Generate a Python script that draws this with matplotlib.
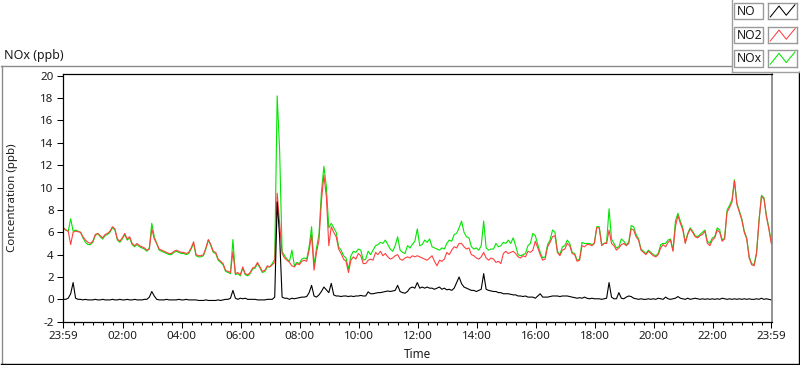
import numpy as np
import matplotlib
matplotlib.use("Agg")
import matplotlib.pyplot as plt
from matplotlib.lines import Line2D
from matplotlib.patches import Rectangle
from matplotlib.ticker import FixedLocator, FixedFormatter

plt.rcParams['font.family'] = ['Noto Sans', 'DejaVu Sans']

# ---------------- data (5-minute samples starting at 23:59) ----------------
step_minutes = 5

no2 = [
    6.4, 6.2, 6.1, 4.9, 6.0, 6.1, 6.05, 6.0, 5.6, 5.3, 5.1, 5.0,
    5.2, 5.8, 5.9, 5.7, 5.5, 5.8, 5.9, 6.1, 6.5, 6.3, 5.4, 5.2,
    5.5, 5.9, 5.4, 5.6, 5.0, 4.8, 5.0, 4.8, 4.7, 4.6, 4.4, 4.5,
    6.3, 5.4, 5.0, 4.5, 4.4, 4.3, 4.2, 4.1, 4.1, 4.3, 4.4, 4.3,
    4.2, 4.2, 4.1, 4.2, 4.6, 5.15, 4.0, 3.9, 3.9, 4.0, 4.6, 5.35,
    4.9, 4.3, 4.2, 3.6, 3.4, 3.2, 2.6, 2.5, 2.4, 4.25, 2.3, 2.4,
    2.2, 2.9, 2.3, 2.2, 2.4, 2.8, 2.9, 3.3, 2.9, 2.5, 2.6, 3.0,
    2.9, 3.1, 3.3, 9.5, 6.8, 4.1, 3.7, 3.5, 3.3, 3.0, 2.9, 3.2,
    3.1, 3.4, 3.5, 3.4, 4.4, 5.75, 2.6, 4.2, 5.3, 8.8, 11.1, 9.2,
    4.8, 6.5, 6.0, 5.6, 4.5, 4.1, 3.6, 3.4, 2.4, 3.5, 3.8, 3.6,
    4.1, 3.9, 3.2, 3.2, 3.5, 3.6, 3.5, 4.2, 4.0, 4.3, 3.9, 4.1,
    3.8, 3.6, 3.7, 3.9, 4.0, 3.6, 3.5, 3.7, 3.8, 3.7, 3.9, 3.8,
    3.9, 3.8, 3.7, 3.6, 3.5, 3.7, 3.9, 3.4, 3.0, 3.5, 3.4, 3.6,
    4.2, 4.0, 4.4, 4.7, 4.6, 5.0, 5.0, 4.7, 4.5, 4.6, 4.0, 3.9,
    3.7, 3.6, 3.8, 4.2, 3.7, 3.5, 3.7, 3.6, 3.3, 3.4, 3.2, 4.1,
    4.3, 4.1, 4.2, 4.3, 4.1, 3.8, 3.7, 3.9, 3.8, 4.3, 4.2, 4.4,
    5.2, 4.6, 4.0, 3.5, 3.6, 4.7, 5.1, 5.6, 5.7, 4.2, 3.9, 4.4,
    4.5, 5.0, 4.8, 4.1, 4.0, 3.4, 3.5, 4.8, 4.7, 4.9, 4.9, 4.8,
    5.0, 6.4, 6.4, 4.8, 5.0, 5.0, 6.2, 5.0, 4.8, 4.4, 4.6, 4.9,
    5.0, 4.8, 5.0, 6.3, 6.2, 5.6, 5.3, 4.4, 4.2, 4.0, 4.3, 4.1,
    3.9, 3.8, 4.0, 4.6, 4.9, 4.7, 5.1, 5.3, 4.3, 6.5, 7.5, 6.8,
    6.2, 5.0, 5.8, 6.3, 6.0, 5.6, 5.5, 5.7, 5.8, 6.1, 5.0, 4.8,
    5.3, 5.5, 6.2, 6.0, 5.2, 5.4, 7.8, 8.2, 8.7, 10.6, 8.5, 7.8,
    7.1, 6.0, 5.4, 3.7, 3.1, 3.0, 4.1, 7.0, 9.2, 9.0, 7.4, 6.3,
    5.0,
]

nox = [
    6.4, 6.2, 6.1, 7.2, 6.1, 6.2, 6.1, 6.0, 5.5, 5.1, 4.9, 4.9,
    5.1, 5.7, 5.9, 5.6, 5.4, 5.7, 5.8, 6.0, 6.4, 6.2, 5.3, 5.1,
    5.4, 5.8, 5.3, 5.5, 4.9, 4.7, 4.9, 4.7, 4.6, 4.5, 4.3, 4.6,
    6.8, 5.6, 5.0, 4.4, 4.3, 4.2, 4.1, 4.0, 4.0, 4.2, 4.3, 4.2,
    4.1, 4.1, 4.0, 4.1, 4.5, 5.0, 3.9, 3.8, 3.8, 3.9, 4.5, 5.3,
    4.8, 4.2, 4.1, 3.5, 3.3, 3.1, 2.5, 2.4, 2.3, 5.35, 2.2, 2.3,
    2.1, 2.8, 2.2, 2.1, 2.3, 2.7, 2.8, 3.2, 2.8, 2.4, 2.5, 2.9,
    2.9, 3.2, 3.6, 18.2, 13.3, 4.3, 3.9, 3.6, 3.4, 4.4, 3.0, 3.3,
    3.2, 3.6, 3.7, 3.6, 4.7, 6.5, 3.0, 4.6, 5.8, 9.6, 11.9, 10.1,
    6.4, 6.8, 6.4, 6.0, 4.7, 4.4, 3.9, 3.7, 2.7, 3.9, 4.3, 4.2,
    4.5, 4.4, 3.5, 3.6, 4.3, 4.0, 4.4, 4.8, 4.9, 5.1, 5.0, 5.3,
    4.9, 4.5, 4.3, 4.8, 5.6, 4.4, 4.2, 4.1, 4.8, 4.6, 4.9, 5.2,
    6.3, 4.8, 4.9, 5.3, 5.1, 5.4, 4.7, 4.6, 4.5, 4.4, 4.6, 4.5,
    5.0, 5.3, 5.2, 5.8, 5.9, 6.4, 7.0, 6.0, 5.6, 5.5, 4.7, 4.5,
    4.6, 4.4, 4.8, 7.0, 4.6, 4.4, 4.5, 4.5, 5.0, 4.7, 4.8, 5.1,
    5.0, 5.3, 5.0, 5.5, 4.8, 4.0, 3.9, 4.0, 4.1, 4.8, 5.0, 5.9,
    5.7, 4.9, 4.2, 3.7, 3.8, 4.9, 5.3, 6.2, 6.0, 4.3, 4.0, 4.7,
    4.8, 5.3, 5.0, 4.2, 4.1, 3.5, 3.6, 5.1, 5.0, 5.0, 5.0, 4.9,
    5.0, 6.5, 6.5, 4.9, 5.0, 5.1, 8.1, 5.4, 5.0, 4.6, 4.7, 5.4,
    5.2, 4.9, 5.1, 6.6, 6.5, 5.8, 5.4, 4.5, 4.3, 4.1, 4.4, 4.2,
    4.0, 3.9, 4.1, 4.9, 5.0, 5.0, 5.3, 5.4, 4.4, 7.0, 7.7, 7.0,
    6.4, 5.1, 5.9, 6.4, 6.1, 5.7, 5.6, 5.8, 6.0, 6.2, 5.2, 5.0,
    5.5, 5.6, 6.4, 6.2, 5.3, 5.5, 8.0, 8.4, 8.9, 10.7, 8.6, 7.9,
    7.2, 6.1, 5.5, 3.8, 3.2, 3.1, 4.2, 7.1, 9.3, 9.1, 7.5, 6.4,
    5.1,
]

no = [
    0.0, 0.0, 0.1, 0.5, 1.5, 0.1, 0.0, 0.0, -0.05, 0.0, -0.05, -0.05,
    -0.05, 0.0, -0.05, -0.05, 0.0, -0.05, -0.05, -0.05, 0.0, -0.05, -0.05, 0.0,
    -0.05, -0.05, 0.0, -0.05, -0.05, 0.0, -0.05, -0.05, -0.05, 0.0, 0.0, 0.2,
    0.7, 0.3, 0.0, -0.05, -0.05, -0.05, 0.0, -0.05, -0.05, -0.05, -0.05, 0.0,
    -0.05, -0.05, 0.0, -0.05, -0.05, -0.05, -0.05, -0.1, -0.1, -0.1, -0.05, -0.1,
    -0.1, -0.1, -0.1, -0.05, -0.1, -0.05, 0.0, 0.0, 0.1, 0.8, 0.1, 0.0,
    0.1, 0.05, 0.1, 0.0, 0.0, 0.0, 0.0, -0.05, -0.05, -0.05, -0.05, 0.0,
    0.0, 0.0, 0.2, 8.7, 5.6, 0.2, 0.1, 0.1, 0.0, 0.1, 0.05, 0.1,
    0.15, 0.2, 0.2, 0.25, 0.6, 1.25, 0.3, 0.2, 0.4, 0.7, 1.1, 0.85,
    0.6, 1.43, 0.4, 0.3, 0.3, 0.25, 0.3, 0.3, 0.25, 0.3, 0.25, 0.3,
    0.3, 0.35, 0.3, 0.3, 0.67, 0.5, 0.5, 0.55, 0.6, 0.6, 0.65, 0.7,
    0.75, 0.7, 0.75, 0.8, 1.25, 0.7, 0.6, 0.55, 0.7, 1.0, 1.1, 1.0,
    1.5, 1.0, 1.1, 1.0, 1.1, 1.0, 1.0, 0.9, 1.0, 1.1, 0.9, 1.0,
    0.85, 0.9, 0.8, 1.0, 1.5, 2.0, 1.4, 1.1, 1.0, 0.9, 0.8, 0.8,
    0.7, 0.8, 0.9, 2.3, 0.9, 0.8, 0.75, 0.7, 0.7, 0.6, 0.6, 0.5,
    0.5, 0.5, 0.45, 0.4, 0.4, 0.3, 0.3, 0.25, 0.3, 0.2, 0.2, 0.2,
    0.1, 0.3, 0.5, 0.2, 0.2, 0.2, 0.25, 0.3, 0.3, 0.3, 0.25, 0.3,
    0.3, 0.3, 0.25, 0.2, 0.15, 0.1, 0.15, 0.1, 0.2, 0.1, 0.05, 0.1,
    0.05, 0.05, 0.05, 0.0, 0.05, 0.1, 1.5, 0.2, 0.05, 0.05, 0.6, 0.1,
    0.05, 0.2, 0.3, 0.25, 0.1, 0.05, 0.0, 0.05, 0.0, 0.0, 0.05, 0.0,
    0.05, 0.0, 0.1, 0.05, 0.0, 0.2, 0.05, 0.0, 0.05, 0.1, 0.25, 0.1,
    0.05, 0.0, 0.1, 0.0, 0.05, 0.1, 0.05, 0.0, 0.05, 0.0, 0.05, 0.0,
    0.05, 0.0, 0.05, 0.0, 0.1, 0.05, 0.0, 0.05, 0.0, 0.05, 0.0, 0.05,
    0.0, 0.05, 0.0, 0.05, 0.0, 0.0, 0.05, 0.0, 0.1, 0.0, 0.05, 0.0,
    -0.05,
]

x_tick_labels = ['23:59', '02:00', '04:00', '06:00', '08:00', '10:00', '12:00',
                 '14:00', '16:00', '18:00', '20:00', '22:00', '23:59']
y_ticks = [-2, 0, 2, 4, 6, 8, 10, 12, 14, 16, 18, 20]
series_names = ['NO', 'NO2', 'NOx']
series_colors = ['#000000', '#ff4040', '#00e600']

# ---------------- figure ----------------
W, H = 800, 365
fig = plt.figure(figsize=(W / 100, H / 100), dpi=100)
fig.patch.set_facecolor('white')


def fx(px):
    return px / W


def fy(py):
    return 1 - py / H


ax = fig.add_axes([fx(63), fy(321.7), fx(772) - fx(63), fy(74.3) - fy(321.7)])

t = np.arange(len(no2)) * step_minutes
lw = 0.8
ax.plot(t, nox, color=series_colors[2], lw=lw)
ax.plot(t, no2, color=series_colors[1], lw=lw)
ax.plot(t, no, color=series_colors[0], lw=lw)

ax.set_xlim(-0.6, 1441.4)
ax.set_ylim(-2, 20.13)


def label_to_minutes(lbl, i):
    h, m = map(int, lbl.split(':'))
    v = (h * 60 + m - (23 * 60 + 59)) % 1440
    if v == 0 and i > 0:
        v = 1440
    return v


major_pos = [label_to_minutes(l, i) for i, l in enumerate(x_tick_labels)]
ax.xaxis.set_major_locator(FixedLocator(major_pos))
ax.xaxis.set_major_formatter(FixedFormatter(x_tick_labels))
minor_pos = [m for m in range(21, 1440, 20) if m not in major_pos]
ax.xaxis.set_minor_locator(FixedLocator(minor_pos))
ax.set_yticks(y_ticks)
ax.set_yticklabels([str(v) for v in y_ticks])

txt_color = '#1c1c1c'
ax.tick_params(axis='both', which='major', labelsize=8.3, colors='#000000',
               labelcolor=txt_color, width=0.75)
ax.tick_params(axis='y', which='major', length=4.2, pad=2.5)
ax.tick_params(axis='x', which='major', length=4.5, pad=2.5)
ax.tick_params(axis='x', which='minor', length=2.5, width=0.75)

for s in ['left', 'top', 'bottom']:
    ax.spines[s].set_color('black')
    ax.spines[s].set_linewidth(0.9)
ax.spines['right'].set_color('#808080')
ax.spines['right'].set_linewidth(1.2)

# labels
fig.text(fx(4), fy(55), 'NOx (ppb)', fontsize=9, ha='left', va='center', color=txt_color)
fig.text(fx(13), fy(198), 'Concentration (ppb)', fontsize=8.3, rotation=90,
         ha='center', va='center', color=txt_color)
fig.text(fx(404), fy(354), 'Time', fontsize=8.5, ha='left', va='center', color=txt_color)


# panel frame
def fline(x0, y0, x1, y1, color, lwid=1.0):
    fig.add_artist(Line2D([fx(x0), fx(x1)], [fy(y0), fy(y1)], color=color, lw=lwid,
                          transform=fig.transFigure))


fline(1, 65.5, 731, 65.5, '#8a8a8a')
fline(1.5, 65.5, 1.5, 363, '#8a8a8a')
fline(1, 363.5, 800, 363.5, '#000000')
fline(798.5, 72, 798.5, 364, '#000000')
fline(731.5, 0, 731.5, 72, '#a0a0a0')
fline(731.5, 72, 800, 72, '#a0a0a0')

# legend
row_tops = [2.7, 26.7, 50.0]
box_h = 16.7
for name, color, top in zip(series_names, series_colors, row_tops):
    fig.add_artist(Rectangle((fx(734), fy(top + box_h)), fx(763) - fx(734), box_h / H,
                             transform=fig.transFigure, facecolor='white',
                             edgecolor='#9a9a9a', lw=1.0))
    fig.text(fx(736.5), fy(top + box_h / 2 + 0.3), name, fontsize=8.8, ha='left',
             va='center', color=txt_color)
    lax = fig.add_axes([fx(768), fy(top + box_h), fx(797) - fx(768), box_h / H])
    lax.set_xlim(0, 1)
    lax.set_ylim(0, 1)
    lax.set_xticks([])
    lax.set_yticks([])
    for s in lax.spines.values():
        s.set_color('#9a9a9a')
        s.set_linewidth(1.0)
    lax.plot([0.08, 0.38, 0.63, 0.93], [0.15, 0.8, 0.25, 0.88], color=color, lw=0.75)

fig.savefig('out.png', dpi=100, facecolor='white')
